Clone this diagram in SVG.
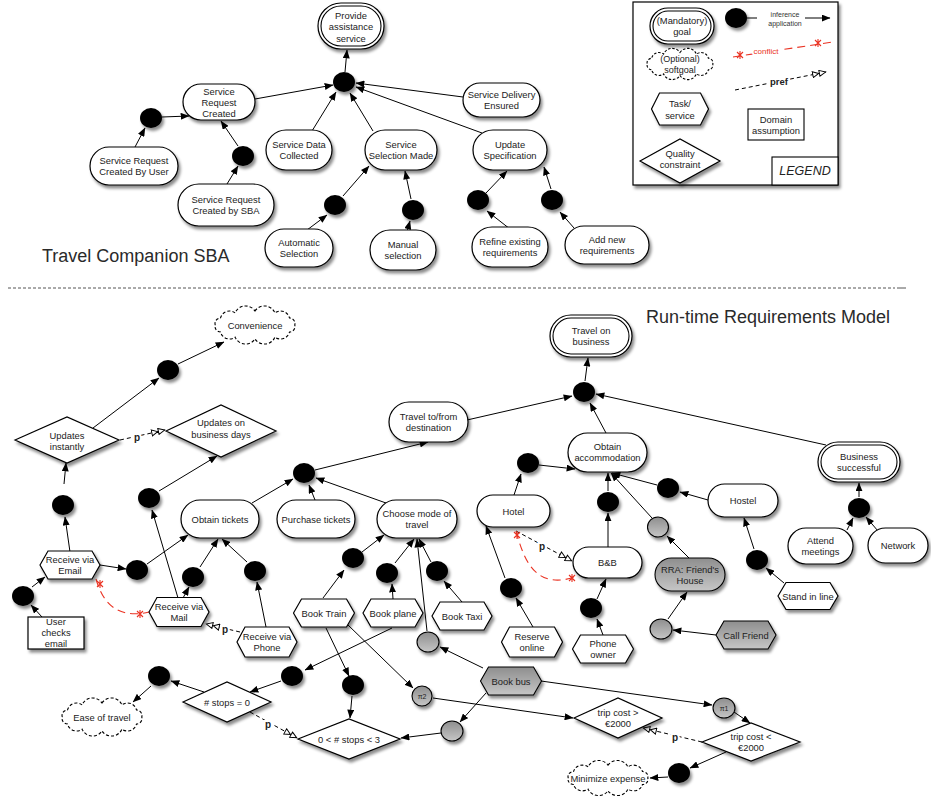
<svg xmlns="http://www.w3.org/2000/svg" xmlns:xlink="http://www.w3.org/1999/xlink" width="931" height="803" viewBox="0 0 931 803">
<defs>
<filter id="sh" x="-30%" y="-30%" width="170%" height="180%"><feDropShadow dx="2" dy="3" stdDeviation="1.8" flood-color="#000" flood-opacity="0.45"/></filter>
<linearGradient id="gg" x1="0" y1="0" x2="0" y2="1"><stop offset="0" stop-color="#8e8e8e"/><stop offset="1" stop-color="#c6c6c6"/></linearGradient>
<marker id="a" viewBox="0 0 10 8" refX="9.5" refY="4" markerWidth="9" markerHeight="7" orient="auto"><path d="M0,0 L10,4 L0,8 z" fill="#000"/></marker>
<marker id="p" viewBox="0 0 20 10" refX="19" refY="5" markerWidth="15" markerHeight="7.5" orient="auto" markerUnits="userSpaceOnUse"><path d="M1,1 L9,5 L1,9 z M10,1 L18.5,5 L10,9 z" fill="#fff" stroke="#000" stroke-width="1.3" stroke-dasharray="none"/></marker>
<path id="cloud" d="M0,-14 A11,11 0 0 1 19.5,-12.1 A9,9 0 0 1 33.8,-7 A5.5,5.5 0 0 1 39,0 A5.5,5.5 0 0 1 33.8,7 A9,9 0 0 1 19.5,12.1 A11,11 0 0 1 0,14 A11,11 0 0 1 -19.5,12.1 A9,9 0 0 1 -33.8,7 A5.5,5.5 0 0 1 -39,0 A5.5,5.5 0 0 1 -33.8,-7 A9,9 0 0 1 -19.5,-12.1 A11,11 0 0 1 0,-14 Z"/>
</defs>
<style>
.g{fill:#fff;stroke:#000;stroke-width:1.2;filter:url(#sh)}
.gi{fill:none;stroke:#000;stroke-width:1.1}
.gr{fill:url(#gg);stroke:#000;stroke-width:1.1;filter:url(#sh)}
.dot{fill:#000;filter:url(#sh)}
.cl{fill:#fff;stroke:#000;stroke-width:1.1;stroke-dasharray:3,2}
.t{font-family:"Liberation Sans",Arial,sans-serif;font-size:9.4px;fill:#222;text-anchor:middle;dominant-baseline:central}
.s{font-size:7px}
.c{fill:none;stroke:#000;stroke-width:1;marker-end:url(#a)}
.pf{fill:none;stroke:#000;stroke-width:1;stroke-dasharray:4,3;marker-end:url(#p)}
.cf{fill:none;stroke:#ea3323;stroke-width:1.1;stroke-dasharray:8,5}
.x{stroke:#ea3323;stroke-width:1.1;fill:none}
.pl{font-family:"Liberation Sans",Arial,sans-serif;font-size:10px;font-weight:bold;fill:#222;text-anchor:middle;dominant-baseline:central;stroke:#fff;stroke-width:4;paint-order:stroke}
.title{font-family:"Liberation Sans",Arial,sans-serif;font-size:18px;fill:#2a2a2a}
</style>

<!-- titles and separator -->
<text class="title" x="42" y="262">Travel Companion SBA</text>
<text class="title" x="646" y="323">Run-time Requirements Model</text>
<path d="M8,288 L895,288" stroke="#555" stroke-width="1" stroke-dasharray="3,2"/>
<path d="M897,288 L906,288" stroke="#555" stroke-width="1"/>

<!-- legend -->
<g id="legend">
<rect x="633" y="2" width="205" height="183" fill="#fff" stroke="#000" stroke-width="1.2" filter="url(#sh)"/>
<rect x="772" y="157" width="66" height="28" fill="#fff" stroke="#000" stroke-width="1.1"/>
<text class="t" x="805" y="171" style="font-size:12.5px;font-style:italic">LEGEND</text>
<rect class="g" x="650" y="8" width="64" height="36" rx="18"/>
<rect class="gi" x="653" y="11" width="58" height="30" rx="15"/>
<text class="t" x="682" y="20">(Mandatory)</text><text class="t" x="682" y="31">goal</text>
<use href="#cloud" class="cl" transform="translate(680,64) scale(0.84,0.82)" style="stroke-width:1.3"/>
<text class="t" x="680" y="58.5" style="font-size:9px">(Optional)</text><text class="t" x="680" y="69.5" style="font-size:9px">softgoal</text>
<polygon class="g" points="651.5,109 659.5,93 700.5,93 708.5,109 700.5,125 659.5,125"/>
<text class="t" x="680" y="103.5">Task/</text><text class="t" x="680" y="115">service</text>
<rect x="748" y="109" width="56" height="31" fill="#fff" stroke="#000" stroke-width="1.1"/>
<text class="t" x="776" y="119">Domain</text><text class="t" x="776" y="130">assumption</text>
<polygon class="g" points="640,161 680,139 720,161 680,183"/>
<text class="t" x="680" y="153">Quality</text><text class="t" x="680" y="164">constraint</text>
<ellipse class="dot" cx="736" cy="18" rx="11" ry="10"/>
<path d="M747,18 L757,18" stroke="#000"/>
<text class="t s" x="785" y="14" style="fill:#333">inference</text><text class="t s" x="785" y="23" style="fill:#333">application</text>
<path class="c" d="M805,18 L830,18"/>
<path class="cf" d="M733,57 L833,42"/>
<text class="t" x="766" y="51" style="font-size:8px;fill:#ea3323;stroke:#fff;stroke-width:4;paint-order:stroke">conflict</text>
<path class="x" d="M737,52 L743,58 M743,52 L737,58 M740,51 L740,59"/>
<path class="x" d="M815,40 L821,46 M821,40 L815,46 M818,39 L818,47"/>
<path class="pf" d="M735,90 L826,72"/>
<text class="pl" x="779" y="81" style="font-size:9.5px">pref</text>
</g>

<!-- connectors -->
<g id="connectors">
<path class="c" d="M345,72 L347,50"/>
<path class="c" d="M255,99 L333,85"/>
<path class="c" d="M312,131 L336,92"/>
<path class="c" d="M373,131 L350,93"/>
<path class="c" d="M482,133 L356,87"/>
<path class="c" d="M463,97 L356,83"/>
<path class="c" d="M162,117 L189,116"/>
<path class="c" d="M135,147 L145,128"/>
<path class="c" d="M227,184 L238,166"/>
<path class="c" d="M238,146 L221,121"/>
<path class="c" d="M307,230 L327,215"/>
<path class="c" d="M343,196 L369,166"/>
<path class="c" d="M407,232 L410,221"/>
<path class="c" d="M411,199 L405,171"/>
<path class="c" d="M510,229 L487,211"/>
<path class="c" d="M486,193 L507,171"/>
<path class="c" d="M574,228 L560,212"/>
<path class="c" d="M551,189 L544,167"/>

<path class="c" d="M585,381 L588,358"/>
<path class="c" d="M467,420 L572,396"/>
<path class="c" d="M606,433 L590,403"/>
<path class="c" d="M826,445 L596,394"/>
<path class="c" d="M859,497 L859,483"/>
<path class="c" d="M847,530 L853,518"/>
<path class="c" d="M878,531 L866,517"/>
<path class="c" d="M315,470 L428,442"/>
<path class="c" d="M252,503 L293,479"/>
<path class="c" d="M315,500 L309,485"/>
<path class="c" d="M386,503 L316,478"/>
<path class="c" d="M539,465 L575,469"/>
<path class="c" d="M514,495 L521,474"/>
<path class="c" d="M608,547 L608,513"/>
<path class="c" d="M608,491 L608,473"/>
<path class="c" d="M652,518 L611,473"/>
<path class="c" d="M689,558 L667,536"/>
<path class="c" d="M708,500 L680,492"/>
<path class="c" d="M657,485 L612,473"/>
<path class="c" d="M754,549 L744,518"/>
<path class="c" d="M784,583 L766,568"/>
<path class="c" d="M716,635 L673,630"/>
<path class="c" d="M668,619 L687,592"/>
<path class="c" d="M603,635 L597,619"/>
<path class="c" d="M597,599 L606,579"/>
<path class="c" d="M533,627 L516,598"/>
<path class="c" d="M505,578 L486,526"/>
<path class="pf" d="M516,531 L572,561"/>
<text class="pl" x="542" y="546">p</text>
<path class="cf" d="M516,531 C524,560 535,590 575,577"/>
<path class="x" d="M514,532 L520,538 M520,532 L514,538 M517,531 L517,539"/>
<path class="x" d="M569,575 L575,581 M575,575 L569,581 M572,574 L572,582"/>

<path class="c" d="M100,565 L126,569"/>
<path class="c" d="M147,564 L188,535"/>
<path class="c" d="M200,567 L218,539"/>
<path class="c" d="M183,598 L189,587"/>
<path class="c" d="M266,627 L257,582"/>
<path class="c" d="M247,562 L222,539"/>
<path class="c" d="M178,598 L152,510"/>
<path class="c" d="M159,491 L217,456"/>
<path class="c" d="M70,552 L65,517"/>
<path class="c" d="M64,484 L66,463"/>
<path class="c" d="M93,428 L159,378"/>
<path class="c" d="M178,364 L224,342"/>
<path class="pf" d="M120,440 L165,430"/>
<text class="pl" x="137" y="437">p</text>
<path class="c" d="M42,617 L31,605"/>
<path class="c" d="M32,587 L45,577"/>
<path class="cf" d="M96,579 C102,600 115,620 149,612"/>
<path class="x" d="M97,581 L103,587 M103,581 L97,587 M100,580 L100,588"/>
<path class="x" d="M137,611 L143,617 M143,611 L137,617 M140,610 L140,618"/>
<path class="pf" d="M240,632 L206,624"/>
<text class="pl" x="225" y="629">p</text>

<path class="c" d="M323,598 L344,570"/>
<path class="c" d="M362,552 L384,535"/>
<path class="c" d="M393,599 L392,584"/>
<path class="c" d="M395,563 L414,539"/>
<path class="c" d="M462,602 L444,581"/>
<path class="c" d="M431,562 L419,539"/>
<path class="c" d="M427,631 L417,539"/>
<path class="c" d="M483,668 L440,647"/>
<path class="c" d="M392,628 L305,670"/>
<path class="c" d="M281,681 L250,692"/>
<path class="c" d="M204,692 L171,681"/>
<path class="c" d="M151,686 L133,702"/>
<path class="pf" d="M250,712 L297,738"/>
<text class="pl" x="268" y="724">p</text>
<path class="c" d="M326,628 L349,676"/>
<path class="c" d="M352,696 L350,718"/>
<path class="c" d="M348,625 L413,688"/>
<path class="c" d="M433,698 L573,718"/>
<path class="c" d="M486,693 L460,722"/>
<path class="c" d="M441,733 L401,738"/>
<path class="c" d="M541,681 L712,705"/>
<path class="c" d="M734,712 L750,723"/>
<path class="pf" d="M702,742 L643,728"/>
<text class="pl" x="675" y="737">p</text>
<path class="c" d="M726,752 L690,768"/>
<path class="c" d="M668,777 L650,778"/>
</g>

<!-- top nodes -->
<g id="provide"><rect class="g" x="318" y="3" width="66" height="46" rx="23"/><rect class="gi" x="321" y="6" width="60" height="40" rx="20"/>
<text class="t" x="351" y="15">Provide</text><text class="t" x="351" y="26.5">assistance</text><text class="t" x="351" y="38">service</text></g>
<g id="d_top"><ellipse class="dot" cx="344" cy="82" rx="11" ry="10"/></g>
<g id="src"><rect class="g" x="183" y="84" width="72" height="36" rx="18"/>
<text class="t" x="219" y="91">Service</text><text class="t" x="219" y="102">Request</text><text class="t" x="219" y="113">Created</text></g>
<g id="d_src1"><ellipse class="dot" cx="151" cy="118" rx="11" ry="10"/></g>
<g id="srcu"><rect class="g" x="90" y="147" width="88" height="38" rx="19"/>
<text class="t" x="134" y="160.5">Service Request</text><text class="t" x="134" y="171.5">Created By User</text></g>
<g id="d_src2"><ellipse class="dot" cx="243" cy="156" rx="11" ry="10"/></g>
<g id="sba"><rect class="g" x="178" y="184" width="96" height="42" rx="21"/>
<text class="t" x="226" y="199.5">Service Request</text><text class="t" x="226" y="210.5">Created by SBA</text></g>
<g id="sdc"><rect class="g" x="266" y="130" width="66" height="40" rx="20"/>
<text class="t" x="299" y="144.5">Service Data</text><text class="t" x="299" y="155.5">Collected</text></g>
<g id="ssm"><rect class="g" x="365" y="130" width="72" height="40" rx="20"/>
<text class="t" x="401" y="144.5">Service</text><text class="t" x="401" y="155.5">Selection Made</text></g>
<g id="us"><rect class="g" x="473" y="130" width="74" height="40" rx="20"/>
<text class="t" x="510" y="144.5">Update</text><text class="t" x="510" y="155.5">Specification</text></g>
<g id="sde"><rect class="g" x="463" y="83" width="77" height="34" rx="17"/>
<text class="t" x="501.5" y="94.5">Service Delivery</text><text class="t" x="501.5" y="105.5">Ensured</text></g>
<g id="d_auto"><ellipse class="dot" cx="335" cy="205" rx="11" ry="10"/></g>
<g id="d_man"><ellipse class="dot" cx="413" cy="210" rx="11" ry="10"/></g>
<g id="d_ref"><ellipse class="dot" cx="478" cy="200" rx="11" ry="10"/></g>
<g id="d_add"><ellipse class="dot" cx="552" cy="200" rx="11" ry="10"/></g>
<g id="auto"><rect class="g" x="265" y="229" width="68" height="38" rx="19"/>
<text class="t" x="299" y="242.5">Automatic</text><text class="t" x="299" y="253.5">Selection</text></g>
<g id="manual"><rect class="g" x="370" y="230" width="66" height="40" rx="20"/>
<text class="t" x="403" y="244.5">Manual</text><text class="t" x="403" y="255.5">selection</text></g>
<g id="refine"><rect class="g" x="472" y="227" width="76" height="40" rx="20"/>
<text class="t" x="510" y="241.5">Refine existing</text><text class="t" x="510" y="252.5">requirements</text></g>
<g id="addnew"><rect class="g" x="565" y="226" width="84" height="38" rx="19"/>
<text class="t" x="607" y="239.5">Add new</text><text class="t" x="607" y="250.5">requirements</text></g>

<!-- bottom nodes -->
<g id="tob"><rect class="g" x="550" y="315" width="82" height="42" rx="21"/><rect class="gi" x="553" y="318" width="76" height="36" rx="18"/>
<text class="t" x="591" y="330.5">Travel on</text><text class="t" x="591" y="341.5">business</text></g>
<g id="d_tob"><ellipse class="dot" cx="584" cy="392" rx="11" ry="10"/></g>
<g id="ttf"><rect class="g" x="389" y="402" width="79" height="40" rx="20"/>
<text class="t" x="428.5" y="416">Travel to/from</text><text class="t" x="428.5" y="427">destination</text></g>
<g id="oa"><rect class="g" x="568" y="433" width="79" height="39" rx="19.5"/>
<text class="t" x="607.5" y="446.5">Obtain</text><text class="t" x="607.5" y="457.5">accommodation</text></g>
<g id="bs"><rect class="g" x="818" y="442" width="82" height="40" rx="20"/><rect class="gi" x="821" y="445" width="76" height="34" rx="17"/>
<text class="t" x="859" y="456.5">Business</text><text class="t" x="859" y="467.5">successful</text></g>
<g id="d_bs"><ellipse class="dot" cx="859" cy="508" rx="11" ry="10"/></g>
<g id="attend"><rect class="g" x="788" y="528" width="65" height="36" rx="18"/>
<text class="t" x="820.5" y="540.5">Attend</text><text class="t" x="820.5" y="551.5">meetings</text></g>
<g id="network"><rect class="g" x="868" y="528" width="60" height="35" rx="17.5"/>
<text class="t" x="898" y="545.5">Network</text></g>
<g id="hostel"><rect class="g" x="708" y="484" width="70" height="33" rx="16.5"/>
<text class="t" x="743" y="500.5">Hostel</text></g>
<g id="d_hostel"><ellipse class="dot" cx="668" cy="488" rx="11" ry="10"/></g>
<g id="d_stand"><ellipse class="dot" cx="757" cy="560" rx="11" ry="10"/></g>
<g id="stand"><polygon class="g" points="778,596 786,582.5 830,582.5 838,596 830,609.5 786,609.5"/>
<text class="t" x="808" y="596">Stand in line</text></g>
<g id="hotel"><rect class="g" x="477" y="495" width="73" height="32" rx="16"/>
<text class="t" x="513.5" y="511">Hotel</text></g>
<g id="d_hotel"><ellipse class="dot" cx="528" cy="463" rx="11" ry="10"/></g>
<g id="bnb"><rect class="g" x="573" y="547" width="69" height="31" rx="15.5"/>
<text class="t" x="607.5" y="562.5">B&amp;B</text></g>
<g id="d_bnb"><ellipse class="dot" cx="608" cy="502" rx="11" ry="10"/></g>
<g id="c_rra"><ellipse class="gr" cx="658" cy="527" rx="10.5" ry="10"/></g>
<g id="rra"><rect class="gr" x="655" y="558" width="70" height="33" rx="16.5"/>
<text class="t" x="690" y="569">RRA:  Friend's</text><text class="t" x="690" y="580">House</text></g>
<g id="c_call"><ellipse class="gr" cx="661" cy="629" rx="11" ry="10"/></g>
<g id="call"><polygon class="gr" points="716,635 724,621 768,621 776,635 768,649 724,649"/>
<text class="t" x="746" y="635">Call Friend</text></g>
<g id="d_phone"><ellipse class="dot" cx="591" cy="608" rx="11" ry="10"/></g>
<g id="phoneown"><polygon class="g" points="572.5,649 580.5,635 625.5,635 633.5,649 625.5,663 580.5,663"/>
<text class="t" x="603" y="643.5">Phone</text><text class="t" x="603" y="654.5">owner</text></g>
<g id="d_res"><ellipse class="dot" cx="511" cy="588" rx="11" ry="10"/></g>
<g id="reserve"><polygon class="g" points="501.5,642 509.5,627 554.5,627 562.5,642 554.5,657 509.5,657"/>
<text class="t" x="532" y="636.5">Reserve</text><text class="t" x="532" y="647.5">online</text></g>

<g id="convenience"><use href="#cloud" class="cl" transform="translate(255,325) scale(1.02,1)"/>
<text class="t" x="255" y="325">Convenience</text></g>
<g id="d_conv"><ellipse class="dot" cx="168" cy="370" rx="11" ry="10"/></g>
<g id="ui"><polygon class="g" points="15,440 67,417 119,440 67,463"/>
<text class="t" x="67" y="435">Updates</text><text class="t" x="67" y="446.5">instantly</text></g>
<g id="ubd"><polygon class="g" points="166,431 221,405 276,431 221,457"/>
<text class="t" x="221" y="422">Updates on</text><text class="t" x="221" y="434">business days</text></g>
<g id="d_ui"><ellipse class="dot" cx="63" cy="505" rx="11" ry="10"/></g>
<g id="d_ubd"><ellipse class="dot" cx="149" cy="498" rx="11" ry="10"/></g>
<g id="d_ptt"><ellipse class="dot" cx="304" cy="473" rx="11" ry="10"/></g>
<g id="ot"><rect class="g" x="181" y="500" width="78" height="38" rx="19"/>
<text class="t" x="220" y="519">Obtain tickets</text></g>
<g id="pt"><rect class="g" x="277" y="500" width="78" height="38" rx="19"/>
<text class="t" x="316" y="519">Purchase tickets</text></g>
<g id="cm"><rect class="g" x="377" y="500" width="80" height="38" rx="19"/>
<text class="t" x="417" y="513.5">Choose mode of</text><text class="t" x="417" y="524.5">travel</text></g>
<g id="email"><polygon class="g" points="40,565 48,551 92,551 100,565 92,579 48,579"/>
<text class="t" x="70" y="559.5">Receive via</text><text class="t" x="70" y="570.5">Email</text></g>
<g id="d_email"><ellipse class="dot" cx="137" cy="570" rx="11" ry="10"/></g>
<g id="d_mail"><ellipse class="dot" cx="193" cy="577" rx="11" ry="10"/></g>
<g id="d_phone2"><ellipse class="dot" cx="255" cy="571" rx="11" ry="10"/></g>
<g id="d_user"><ellipse class="dot" cx="23" cy="596" rx="11" ry="10"/></g>
<g id="user"><rect x="28" y="617" width="56" height="32" fill="#fff" stroke="#000" stroke-width="1.2" filter="url(#sh)"/>
<text class="t" x="56" y="621">User</text><text class="t" x="56" y="632">checks</text><text class="t" x="56" y="643">email</text></g>
<g id="mail"><polygon class="g" points="149,612 157,597.5 201,597.5 209,612 201,626.5 157,626.5"/>
<text class="t" x="179" y="606.5">Receive via</text><text class="t" x="179" y="617.5">Mail</text></g>
<g id="phone"><polygon class="g" points="237,642 245,627 289,627 297,642 289,657 245,657"/>
<text class="t" x="267" y="636.5">Receive via</text><text class="t" x="267" y="647.5">Phone</text></g>

<g id="d_train"><ellipse class="dot" cx="353" cy="558" rx="11" ry="10"/></g>
<g id="d_plane"><ellipse class="dot" cx="387" cy="573" rx="11" ry="10"/></g>
<g id="d_taxi"><ellipse class="dot" cx="437" cy="571" rx="11" ry="10"/></g>
<g id="train"><polygon class="g" points="293.5,613 301.5,599 346.5,599 354.5,613 346.5,627 301.5,627"/>
<text class="t" x="324" y="613">Book Train</text></g>
<g id="plane"><polygon class="g" points="363,613 371,599 415,599 423,613 415,627 371,627"/>
<text class="t" x="393" y="613">Book plane</text></g>
<g id="taxi"><polygon class="g" points="432,616 440,602 484,602 492,616 484,630 440,630"/>
<text class="t" x="462" y="616">Book Taxi</text></g>
<g id="c_bus1"><ellipse class="gr" cx="428" cy="642" rx="11" ry="10"/></g>
<g id="bus"><polygon class="gr" points="480.5,681 488.5,667 533.5,667 541.5,681 533.5,695 488.5,695"/>
<text class="t" x="511" y="681">Book bus</text></g>
<g id="pi2"><ellipse class="gr" cx="422" cy="696" rx="10" ry="10"/><text class="t s" x="422" y="696">π2</text></g>
<g id="c_bus2"><ellipse class="gr" cx="452" cy="731" rx="11" ry="10"/></g>
<g id="d_s0r"><ellipse class="dot" cx="292" cy="676" rx="11" ry="10"/></g>
<g id="d_s0l"><ellipse class="dot" cx="159" cy="676" rx="11" ry="10"/></g>
<g id="d_s03"><ellipse class="dot" cx="353" cy="685" rx="11" ry="10"/></g>
<g id="s0"><polygon class="g" points="183,702 227,682 271,702 227,722"/>
<text class="t" x="227" y="702"># stops = 0</text></g>
<g id="s03"><polygon class="g" points="298,739 349,719 400,739 349,759"/>
<text class="t" x="349" y="739">0 &lt; # stops &lt; 3</text></g>
<g id="ease"><use href="#cloud" class="cl" transform="translate(102,717) scale(1.02,1)"/>
<text class="t" x="102" y="717">Ease of travel</text></g>
<g id="tcg"><polygon class="g" points="574,718 618,698 662,718 618,738"/>
<text class="t" x="618" y="712">trip cost &gt;</text><text class="t" x="618" y="723.5">€2000</text></g>
<g id="pi1"><ellipse class="gr" cx="724" cy="708" rx="11" ry="10"/><text class="t s" x="724" y="708">π1</text></g>
<g id="tcl"><polygon class="g" points="702,742 751,723 800,742 751,761"/>
<text class="t" x="751" y="736">trip cost &lt;</text><text class="t" x="751" y="747.5">€2000</text></g>
<g id="d_min"><ellipse class="dot" cx="679" cy="773" rx="11" ry="10"/></g>
<g id="minimize"><use href="#cloud" class="cl" transform="translate(608,778) scale(1.02,0.92)"/>
<text class="t" x="608" y="778">Minimize expense</text></g>
</svg>
